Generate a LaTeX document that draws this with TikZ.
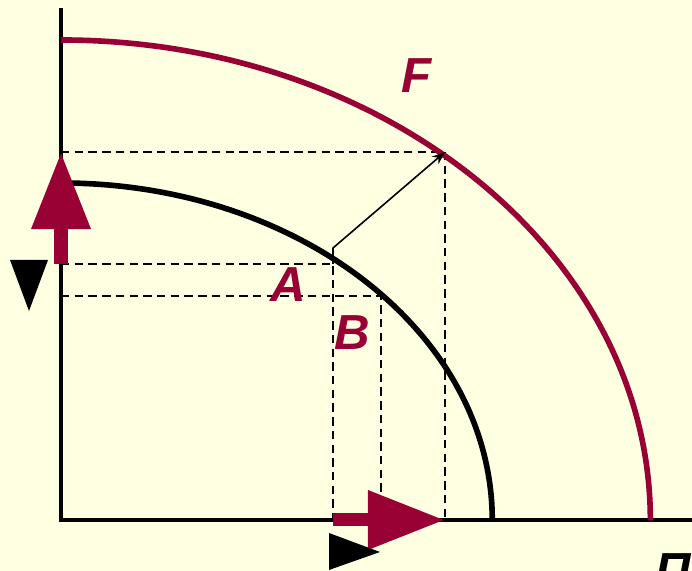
\documentclass[tikz,border=0pt]{standalone}
\usepackage{fontspec}
\setmainfont{Liberation Sans}
\usetikzlibrary{arrows.meta}
\definecolor{bgyellow}{HTML}{FFFFE2}
\definecolor{wine}{HTML}{990033}

\begin{document}
\begin{tikzpicture}[x=0.01cm, y=0.01cm,
    axis/.style={line width=1.15pt},
    guide/.style={dashed, line width=0.5pt, dash pattern=on 2.4pt off 1.5pt},
    bigarrow/.style={wine, line width=0.13cm, -{Triangle[length=0.77cm, width=0.56cm]}},
    lbl/.style={text=wine, inner sep=0pt, font=\fontsize{14}{16}\selectfont\bfseries\itshape}]
        \fill[bgyellow] (0,0) rectangle (692,571);
        \useasboundingbox (0,0) rectangle (692,571);
        % points
        \coordinate (O) at (61,51);
        \coordinate (ytop) at (61,563);
        \coordinate (xend) at (692,51);
        \coordinate (outer) at (61,531);
        \coordinate (inner) at (61,388);
        \coordinate (Fp) at (445,419);
        \coordinate (Ap) at (333,307);
        \coordinate (Aup) at (333,323);
        \coordinate (Bp) at (381,275);
        % projections
        \draw[guide] (61,419) -- (Fp) -- (445,51);
        \draw[guide] (61,307) -- (Ap) -- (333,51);
        \draw[guide] (61,275) -- (Bp) -- (381,51);
        % axes
        \draw[axis] (ytop) -- (O) -- (xend);
        % curves
        \draw[wine, line width=1.6pt] (outer) arc[start angle=90, end angle=0, x radius=5.89cm, y radius=4.80cm];
        \draw[line width=1.6pt] (inner) arc[start angle=90, end angle=0, x radius=4.31cm, y radius=3.37cm];
        \draw[line width=0.45pt, -{Stealth[length=0.13cm, width=0.1cm]}] (Ap) -- (Aup) -- (Fp);
        % arrows
        \draw[bigarrow] (61,307) -- (61,419);
        \draw[bigarrow] (333,51) -- (445,51);
        \fill (10,311) -- (48,311) -- (29,260) -- cycle;
        \fill (329,38) -- (329,1) -- (380,19) -- cycle;
        % labels
        \node[lbl] (F) at (417,495) {F};
        \node[lbl] (A) at (288,286) {A};
        \node[lbl] (B) at (352,238) {B};
        \node[lbl, text=black, anchor=base west] (pl) at (655,-17) {ПЛ};
    \end{tikzpicture}
\end{document}
